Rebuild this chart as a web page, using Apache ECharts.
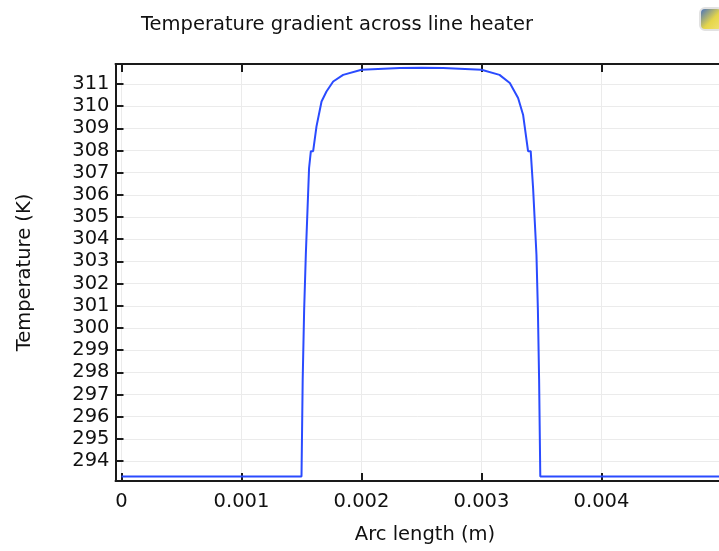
<!DOCTYPE html>
<html>
<head>
<meta charset="utf-8">
<script src="https://cdn.jsdelivr.net/npm/echarts@6/dist/echarts.min.js"></script>
<style>html,body{margin:0;padding:0;background:#fff;}#c{width:719px;height:551px;}</style>
</head>
<body>
<div id="c"></div>
<script>
var arcLength = [0, 0.0015, 0.00151, 0.001522, 0.001536, 0.001563, 0.001578, 0.001597, 0.001625, 0.001667, 0.001708, 0.001764, 0.001847, 0.002, 0.00232, 0.0025, 0.00268, 0.003, 0.00315, 0.003236, 0.003305, 0.003347, 0.003388, 0.00341, 0.00343, 0.003444, 0.003458, 0.00347, 0.00348, 0.00349, 0.005];
var temperature = [293.3, 293.3, 297.7, 300.8, 303.3, 307.2, 307.97, 307.97, 309.09, 310.21, 310.66, 311.11, 311.41, 311.64, 311.72, 311.73, 311.72, 311.64, 311.41, 311.04, 310.37, 309.6, 307.97, 307.97, 306.3, 304.8, 303.3, 300.8, 297.7, 293.3, 293.3];
var xTicks = [0, 0.001, 0.002, 0.003, 0.004];
var yTicks = [294, 295, 296, 297, 298, 299, 300, 301, 302, 303, 304, 305, 306, 307, 308, 309, 310, 311];
var titleText = "Temperature gradient across line heater";
var xName = "Arc length (m)";
var yName = "Temperature (K)";

var font = "DejaVu Sans";
var fs = 19.5;
var pts = arcLength.map(function (x, i) { return [x, temperature[i]]; });

var chart = echarts.init(document.getElementById('c'), null, {renderer: 'canvas'});
var axisLineStyle = {color: '#1a1a1a', width: 2};
var tickStyle = {color: '#1a1a1a', width: 2};
chart.setOption({
  backgroundColor: '#ffffff',
  animation: false,
  title: {
    text: titleText,
    left: 136, top: 10,
    textStyle: {fontFamily: font, fontSize: fs, fontWeight: 'normal', color: '#111'}
  },
  graphic: [{
    type: 'rect', left: 699, top: 7,
    shape: {width: 22, height: 22, r: 5},
    style: {fill: new echarts.graphic.LinearGradient(0, 0, 1, 1, [{offset: 0, color: '#2f62d0'}, {offset: 0.55, color: '#e6d64a'}, {offset: 1, color: '#f3e47c'}]), stroke: '#e2e2e2', lineWidth: 2}
  }],
  grid: {left: 115.5, top: 64, width: 612, bottom: 70, containLabel: false, outerBoundsMode: 'none'},
  xAxis: [{
    type: 'value', min: -0.00005, max: 0.00505,
    name: xName, nameLocation: 'middle', nameGap: 44,
    nameTextStyle: {fontFamily: font, fontSize: fs, color: '#111', padding: [0, 0, 0, 7]},
    axisLine: {show: true, onZero: false, lineStyle: axisLineStyle},
    axisTick: {show: true, inside: true, length: 8, lineStyle: tickStyle, customValues: xTicks},
    axisLabel: {fontFamily: font, fontSize: fs, color: '#111', margin: 11, customValues: xTicks,
      formatter: function (v) { return v === 0 ? '0' : String(Number(v.toFixed(4))); }},
    splitLine: {show: true, lineStyle: {color: '#ebebeb', width: 1}}
  }, {
    type: 'value', position: 'top', min: -0.00005, max: 0.00505,
    axisLine: {show: true, onZero: false, lineStyle: axisLineStyle},
    axisTick: {show: true, inside: true, length: 8, lineStyle: tickStyle, customValues: xTicks},
    axisLabel: {show: false},
    splitLine: {show: false}
  }],
  yAxis: [{
    type: 'value', min: 293.1, max: 311.9,
    name: yName, nameLocation: 'middle', nameGap: 81,
    nameTextStyle: {fontFamily: font, fontSize: fs, color: '#111'},
    axisLine: {show: true, onZero: false, lineStyle: axisLineStyle},
    axisTick: {show: true, inside: true, length: 8, lineStyle: tickStyle, customValues: yTicks},
    axisLabel: {fontFamily: font, fontSize: fs, color: '#111', margin: 6, customValues: yTicks,
      formatter: function (v) { return String(Math.round(v)); }},
    splitLine: {show: true, lineStyle: {color: '#ebebeb', width: 1}}
  }],
  series: [{
    type: 'line', xAxisIndex: 0, yAxisIndex: 0,
    data: pts, showSymbol: false, smooth: false,
    lineStyle: {color: '#2a4bff', width: 2},
    clip: true
  }]
});
</script>
</body>
</html>
